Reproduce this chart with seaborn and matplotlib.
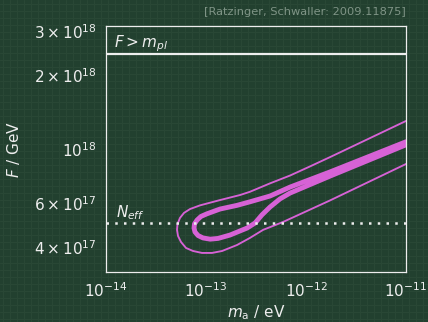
import numpy as np
import matplotlib
matplotlib.use("Agg")
import matplotlib.pyplot as plt
import seaborn as sns

# -----------------------------
# DATA
# -----------------------------

# outer (2 sigma) contour, from upper right round the nose to lower right
outer_ma = [1.0e-11, 1.74e-12, 1.10e-12, 6.92e-13, 4.37e-13, 2.75e-13, 2.19e-13,
            1.38e-13, 8.71e-14, 6.92e-14, 6.03e-14, 5.50e-14, 5.19e-14, 5.13e-14,
            5.25e-14, 5.62e-14, 6.31e-14, 7.41e-14, 9.12e-14, 1.15e-13, 1.45e-13,
            2.04e-13, 2.75e-13, 3.72e-13, 5.89e-13, 1.74e-12, 1.0e-11]
outer_F = [1.30e18, 9.27e17, 8.5e17, 7.8e17, 7.25e17, 6.7e17, 6.5e17,
           6.2e17, 5.9e17, 5.7e17, 5.50e17, 5.25e17, 4.96e17, 4.69e17,
           4.43e17, 4.19e17, 3.96e17, 3.85e17, 3.78e17, 3.78e17, 3.85e17,
           4.07e17, 4.35e17, 4.69e17, 5.05e17, 6.18e17, 8.69e17]

# inner (1 sigma) contour
inner_ma = [1.0e-11, 1.74e-12, 6.92e-13, 4.37e-13, 2.75e-13, 2.04e-13, 1.38e-13,
            1.02e-13, 8.91e-14, 8.13e-14, 7.67e-14, 7.59e-14, 7.76e-14, 8.32e-14,
            9.33e-14, 1.10e-13, 1.32e-13, 1.74e-13, 2.57e-13, 3.09e-13, 3.63e-13,
            4.37e-13, 5.50e-13, 6.92e-13, 1.74e-12, 1.0e-11]
inner_F = [1.07e18, 8.07e17, 7.0e17, 6.44e17, 6.1e17, 5.9e17, 5.7e17,
           5.45e17, 5.32e17, 5.14e17, 4.96e17, 4.77e17, 4.60e17, 4.45e17,
           4.35e17, 4.30e17, 4.33e17, 4.47e17, 4.77e17, 5.0e17, 5.40e17,
           5.81e17, 6.27e17, 6.62e17, 7.76e17, 1.04e18]

m_pl = 2.435e18      # reduced Planck mass
F_neff = 5.0e17      # N_eff bound

ytick_vals = [4e17, 6e17, 1e18, 2e18, 3e18]
ytick_labels = [r"$4\times10^{17}$", r"$6\times10^{17}$", r"$10^{18}$",
                r"$2\times10^{18}$", r"$3\times10^{18}$"]
yminor_vals = [5e17, 7e17, 8e17, 9e17]

# -----------------------------
# STYLE
# -----------------------------

BG = "#22402f"
GRIDC = "#294735"
FG = "#eeeeee"
MAG = "#d762d6"

sns.set_theme(style="dark", rc={
    "figure.facecolor": BG,
    "axes.facecolor": "none",
    "axes.edgecolor": FG,
    "axes.labelcolor": FG,
    "xtick.color": FG,
    "ytick.color": FG,
    "text.color": FG,
})
plt.rcParams["font.family"] = ["DejaVu Sans"]
plt.rcParams["mathtext.fontset"] = "dejavusans"

fig = plt.figure(figsize=(4.28, 3.22), dpi=100)

# chalkboard grid texture in the background
bg = fig.add_axes([0, 0, 1, 1], zorder=-1)
bg.set_facecolor(BG)
bg.set_xlim(0, 428)
bg.set_ylim(0, 322)
bg.set_xticks(np.arange(3, 428, 7))
bg.set_yticks(np.arange(3, 322, 7))
bg.grid(True, color=GRIDC, lw=0.8)
bg.tick_params(length=0, labelbottom=False, labelleft=False)
for s in bg.spines.values():
    s.set_visible(False)

ax = fig.add_axes([106 / 428, 1 - 272 / 322, 300 / 428, 246 / 322])
ax.set_xscale("log")
ax.set_yscale("log")

sns.lineplot(x=outer_ma, y=outer_F, sort=False, estimator=None,
             color=MAG, lw=1.35, ax=ax, solid_joinstyle="round")
sns.lineplot(x=inner_ma, y=inner_F, sort=False, estimator=None,
             color=MAG, lw=3.5, ax=ax, solid_joinstyle="round")

ax.axhline(m_pl, color=FG, lw=1.6)
ax.axhline(F_neff, color=FG, lw=1.8, ls=(0, (1, 2.5)))

ax.text(1.2e-14, 2.58e18, r"$F > m_{pl}$", fontsize=11, color=FG, va="baseline")
ax.text(1.26e-14, 5.3e17, r"$N_{eff}$", fontsize=11, color=FG, va="baseline")

ax.set_xlim(1e-14, 1e-11)
ax.set_ylim(10 ** 17.5, 10 ** 18.5)

ax.set_yticks(ytick_vals)
ax.set_yticklabels(ytick_labels)
ax.set_yticks(yminor_vals, minor=True)
ax.yaxis.set_minor_formatter(matplotlib.ticker.NullFormatter())
ax.set_xticks([1e-14, 1e-13, 1e-12, 1e-11])
ax.xaxis.set_minor_locator(matplotlib.ticker.LogLocator(base=10, subs=np.arange(2, 10)))

ax.tick_params(which="major", length=4, width=0.8, labelsize=11, colors=FG, pad=3)
ax.tick_params(which="minor", length=2.5, width=0.7, colors=FG)

for s in ax.spines.values():
    s.set_color(FG)
    s.set_linewidth(0.9)

ax.set_xlabel(r"$m_\mathrm{a}$ / eV", fontsize=11, labelpad=2)
ax.set_ylabel(r"$F$ / GeV", fontsize=11, labelpad=8)

fig.text(406 / 428, 1 - 12 / 322, "[Ratzinger, Schwaller: 2009.11875]",
         fontsize=8.2, color="#7f9486", ha="right", va="center")

fig.savefig("out.png", dpi=100, facecolor=BG)
